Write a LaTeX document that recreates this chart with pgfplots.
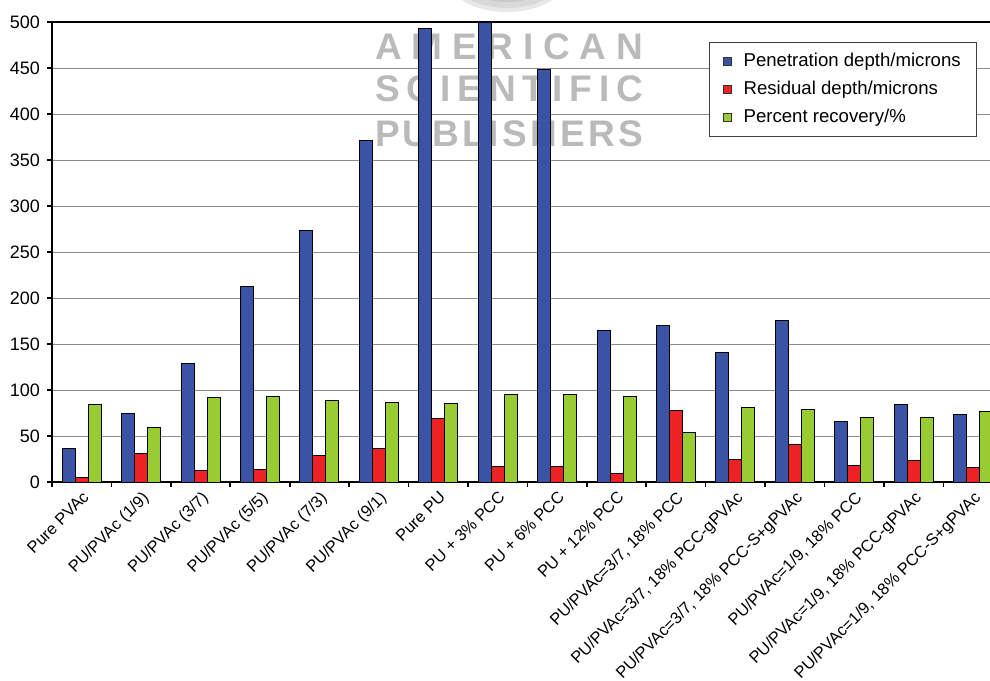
\documentclass[border=0pt]{standalone}
\usepackage{fontspec}
\setmainfont{Liberation Sans}
\usepackage{pgfplots}
\usepackage{pgfplotstable}
\pgfplotsset{compat=1.18}

\definecolor{penblue}{HTML}{3A53A4}
\definecolor{resred}{HTML}{ED2224}
\definecolor{recgreen}{HTML}{99CC33}
\definecolor{wmgray}{HTML}{BABABA}
\definecolor{gridgray}{HTML}{8C8C8C}

% indentation results per sample
\pgfplotstableread{
idx pen   res  rec
0   36.5  5    84
1   74.5  31   59
2   129   13   91.5
3   213   14   93
4   273   28.5 88.5
5   371.5 36.5 86.5
6   493   68.5 85.5
7   500   16.5 95.5
8   448   16.5 95.5
9   164.5 9    93
10  170   77.5 53.5
11  140.5 24.5 81.5
12  176   40.5 78.5
13  65.5  18   70.5
14  84    23   70.5
15  73    15.5 77
}\hardness

\pgfplotsset{
  sq legend/.style={legend image code/.code={%
    \path[draw=none, fill=none] (0pt,0pt) -- (9pt,0pt);
    \draw[##1, draw=black!80, line width=0.5pt] (1pt,-2pt) rectangle (5pt,2pt);}},
}

\newcommand{\spread}[1]{\makebox[134pt][s]{#1}}

\begin{document}
\begin{tikzpicture}
% publisher stamp behind the plot
\begin{scope}[wmgray, font=\fontsize{18.5}{20}\selectfont\bfseries]
  \node at (228.5pt,217.75pt) {\spread{A\hfill M\hfill E\hfill R\hfill I\hfill C\hfill A\hfill N}};
  \node at (228.5pt,196.5pt) {\spread{S\hfill C\hfill I\hfill E\hfill N\hfill T\hfill I\hfill F\hfill I\hfill C}};
  \node at (228.5pt,174.25pt) {\spread{P\hfill U\hfill B\hfill L\hfill I\hfill S\hfill H\hfill E\hfill R\hfill S}};
\end{scope}
\fill[gray!18] (227.5pt,251pt) ellipse [x radius=29pt, y radius=16pt];
\fill[gray!30] (227.5pt,251pt) ellipse [x radius=26pt, y radius=14pt];
\fill[gray!42] (227.5pt,252pt) ellipse [x radius=22pt, y radius=12pt];

\begin{axis}[
  at={(0,0)}, anchor=south west,
  scale only axis, width=475.4pt, height=230pt,
  xmin=-0.5, xmax=15.5, ymin=0, ymax=500,
  ybar=0pt, bar width=0.219,
  axis line style={black, line width=1pt},
  tick align=outside, xtick pos=left, ytick pos=left,
  major tick length=2.5pt, minor tick length=2.5pt,
  tick style={black, line width=0.8pt},
  major x tick style={draw=none},
  xtick={0,...,15},
  minor xtick={-0.5,0.5,...,15.5},
  xticklabels={Pure PVAc, PU/PVAc (1/9), PU/PVAc (3/7), PU/PVAc (5/5),
    PU/PVAc (7/3), PU/PVAc (9/1), Pure PU, PU + 3\% PCC, PU + 6\% PCC,
    PU + 12\% PCC, {PU/PVAc=3/7, 18\% PCC}, {PU/PVAc=3/7, 18\% PCC-gPVAc},
    {PU/PVAc=3/7, 18\% PCC-S+gPVAc}, {PU/PVAc=1/9, 18\% PCC},
    {PU/PVAc=1/9, 18\% PCC-gPVAc}, {PU/PVAc=1/9, 18\% PCC-S+gPVAc}},
  ytick={0,50,...,500},
  ymajorgrids, grid style={gridgray, line width=0.5pt},
  /pgf/number format/assume math mode=true,
  xticklabel style={font=\fontsize{8.2}{9}\selectfont,
    rotate=45, anchor=north east, inner sep=1pt},
  yticklabel style={font=\fontsize{9}{10}\selectfont},
  legend cell align=left,
  legend style={at={(0.691,0.9565)}, anchor=north west,
    draw=black!75, line width=0.6pt, fill=white,
    font=\fontsize{9.3}{11}\selectfont,
    inner xsep=6pt, inner ysep=3.5pt, row sep=2pt,
    nodes={inner ysep=1.5pt, text height=7pt, text depth=2pt}},
]
\addplot[fill=penblue, draw=black, line width=0.5pt, sq legend]
  table[x=idx, y=pen]{\hardness};
\addplot[fill=resred, draw=black, line width=0.5pt, sq legend]
  table[x=idx, y=res]{\hardness};
\addplot[fill=recgreen, draw=black, line width=0.5pt, sq legend]
  table[x=idx, y=rec]{\hardness};
\legend{Penetration depth/microns, Residual depth/microns, Percent recovery/\%}
\end{axis}

\pgfresetboundingbox
\path[use as bounding box] (-26pt,-99pt) rectangle (469pt,241pt);
\end{tikzpicture}
\end{document}
